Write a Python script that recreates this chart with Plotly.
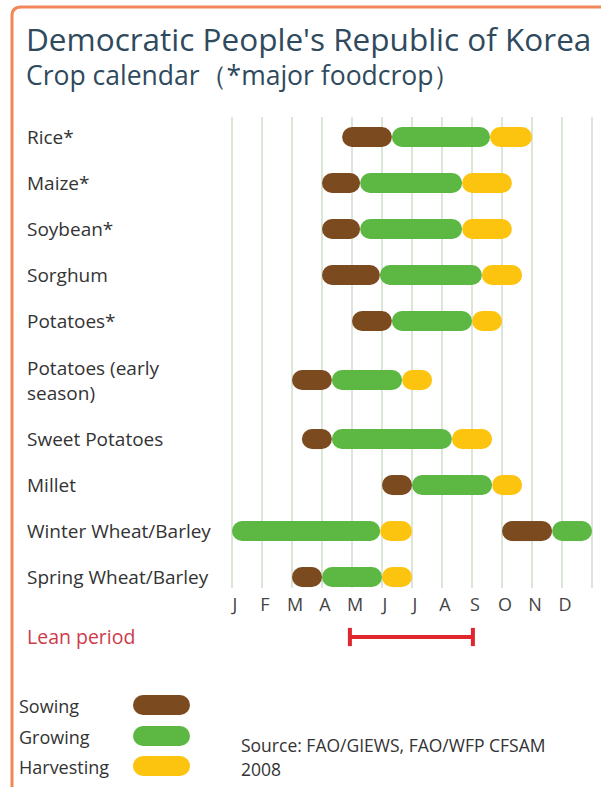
import plotly.graph_objects as go

# ---------------- data ----------------
crops = ["Rice*", "Maize*", "Soybean*", "Sorghum", "Potatoes*",
         "Potatoes (early<br>season)", "Sweet Potatoes", "Millet",
         "Winter Wheat/Barley", "Spring Wheat/Barley"]
# month scale: 0 = start of January ... 12 = end of December
sowing_start  = [3.67, 3.0, 3.0, 3.0, 4.0, 2.0, 2.33, 5.0, 9.0, 2.0]
sowing_end    = [5.33, 4.27, 4.27, 4.93, 5.33, 3.33, 3.33, 6.0, 10.67, 3.0]
growing_start = [5.33, 4.27, 4.27, 4.93, 5.33, 3.33, 3.33, 6.0, 0.0, 3.0]
growing_end   = [8.6, 7.67, 7.67, 8.33, 8.0, 5.67, 7.33, 8.67, 4.94, 5.0]
harvest_start = [8.6, 7.67, 7.67, 8.33, 8.0, 5.67, 7.33, 8.67, 4.94, 5.0]
harvest_end   = [10.0, 9.33, 9.33, 9.67, 9.0, 6.67, 8.67, 9.67, 6.0, 6.0]
# winter crop keeps growing after the autumn sowing
winter_crop = "Winter Wheat/Barley"
winter_growing_start = [10.67]
winter_growing_end = [12.0]

month_labels = ["J", "F", "M", "A", "M", "J", "J", "A", "S", "O", "N", "D"]
lean_start = [3.93]
lean_end = [8.03]

phases = ["Sowing", "Growing", "Harvesting"]
source_lines = ["Source: FAO/GIEWS, FAO/WFP CFSAM", "2008"]
title = "Democratic People's Republic of Korea"
subtitle = "Crop calendar（*major foodcrop）"

# ---------------- style / layout ----------------
W, H = 601, 787
X0_PX, PX_PER_MONTH = 232, 30
ROW_PX, FIRST_ROW_PX = 46, 137
BAR_PX = 20
GRID_TOP, GRID_BOTTOM = 117, 588
PHASE_COLORS = {"Sowing": "#7b4a1f", "Growing": "#5cb843", "Harvesting": "#fcc40f"}
TEXT = "#333333"
FONT = "Open Sans, Noto Sans, sans-serif"

r_month = (BAR_PX / 2) / PX_PER_MONTH

# row positions (in row units), two-line labels get more room
half = [0.5 + 0.283 * c.count("<br>") for c in crops]
pos = [0.0]
for i in range(1, len(crops)):
    pos.append(pos[-1] + half[i - 1] + half[i])
row_of = dict(zip(crops, pos))


def pills(starts, ends, rows):
    xs, ys = [], []
    for s, e, y in zip(starts, ends, rows):
        xs += [s + r_month, e - r_month, None]
        ys += [y, y, None]
    return xs, ys


fig = go.Figure()

segments = {
    "Sowing": (sowing_start, sowing_end, pos),
    "Growing": (growing_start + winter_growing_start,
                growing_end + winter_growing_end,
                pos + [row_of[winter_crop]] * len(winter_growing_start)),
    "Harvesting": (harvest_start, harvest_end, pos),
}
for ph in phases:
    s, e, rows = segments[ph]
    xs, ys = pills(s, e, rows)
    fig.add_trace(go.Scatter(
        x=xs, y=ys, mode="lines+markers", name=ph,
        line=dict(color=PHASE_COLORS[ph], width=BAR_PX),
        marker=dict(color=PHASE_COLORS[ph], size=BAR_PX, line=dict(width=0)),
        cliponaxis=False, showlegend=False, hoverinfo="skip",
        xaxis="x", yaxis="y"))

# lean period
fig.add_trace(go.Scatter(
    x=[lean_start[0], lean_end[0]], y=[0, 0], mode="lines+markers",
    line=dict(color="#e0262f", width=4),
    marker=dict(symbol="line-ns", size=13, line=dict(color="#e0262f", width=4)),
    cliponaxis=False, showlegend=False, hoverinfo="skip",
    xaxis="x4", yaxis="y2"))

# legend swatches (pixel overlay)
leg_y = [705, 736, 766]
for ph, yy in zip(phases, leg_y):
    fig.add_trace(go.Scatter(
        x=[133 + BAR_PX / 2, 190 - BAR_PX / 2], y=[yy, yy], mode="lines+markers",
        line=dict(color=PHASE_COLORS[ph], width=BAR_PX),
        marker=dict(color=PHASE_COLORS[ph], size=BAR_PX, line=dict(width=0)),
        cliponaxis=False, showlegend=False, hoverinfo="skip",
        xaxis="x3", yaxis="y3"))

x_dom = [214 / W, 600 / W]
x_rng = [(214 - X0_PX) / PX_PER_MONTH, (600 - X0_PX) / PX_PER_MONTH]
y_dom = [1 - GRID_BOTTOM / H, 1 - GRID_TOP / H]
y_rng = [(GRID_BOTTOM - FIRST_ROW_PX) / ROW_PX, (GRID_TOP - FIRST_ROW_PX) / ROW_PX]

ann = []
ann.append(dict(text=title, x=24, y=38, xref="x3", yref="y3", xanchor="left",
                yanchor="middle", showarrow=False,
                font=dict(size=31.5, color="#2f4a5d", family=FONT)))
ann.append(dict(text=subtitle, x=24, y=75, xref="x3", yref="y3", xanchor="left",
                yanchor="middle", showarrow=False,
                font=dict(size=26.5, color="#2f4a5d", family=FONT)))
for c, p in zip(crops, pos):
    ann.append(dict(text=c, x=25, y=p, xref="x3", yref="y", xanchor="left",
                    yanchor="middle", align="left", showarrow=False,
                    font=dict(size=19, color=TEXT, family=FONT)))
ann.append(dict(text="Lean period", x=25, y=636, xref="x3", yref="y3",
                xanchor="left", yanchor="middle", showarrow=False,
                font=dict(size=19.5, color="#cf3a4a", family=FONT)))
for ph, yy in zip(phases, leg_y):
    ann.append(dict(text=ph, x=17, y=yy + 1, xref="x3", yref="y3",
                    xanchor="left", yanchor="middle", showarrow=False,
                    font=dict(size=18, color=TEXT, family=FONT)))
for line, yy in zip(source_lines, [745, 769]):
    ann.append(dict(text=line, x=239, y=yy, xref="x3", yref="y3",
                    xanchor="left", yanchor="middle", showarrow=False,
                    font=dict(size=17.5, color=TEXT, family=FONT)))

fig.update_layout(
    width=W, height=H,
    margin=dict(l=0, r=0, t=0, b=0),
    paper_bgcolor="white", plot_bgcolor="rgba(0,0,0,0)",
    font=dict(family=FONT, color=TEXT),
    xaxis=dict(domain=x_dom, range=x_rng, anchor="y",
               tickmode="array", tickvals=list(range(13)),
               ticktext=month_labels + [""],
               showgrid=True, gridcolor="#dce6d6", gridwidth=2,
               zeroline=False, showline=False, ticks="",
               tickfont=dict(size=18, color="#444444", family=FONT),
               ticklabelstandoff=4, ticklabelshift=3, fixedrange=True),
    yaxis=dict(domain=y_dom, range=y_rng, anchor="x", showgrid=False,
               zeroline=False, showticklabels=False, ticks="", fixedrange=True),
    xaxis4=dict(domain=x_dom, range=x_rng, anchor="y2", visible=False,
                showgrid=False, zeroline=False, fixedrange=True),
    yaxis2=dict(domain=[1 - 648 / H, 1 - 626 / H], range=[-1, 1], anchor="x4",
                visible=False, showgrid=False, zeroline=False, fixedrange=True),
    xaxis3=dict(domain=[0, 1], range=[0, W], anchor="y3", visible=False,
                showgrid=False, zeroline=False, fixedrange=True),
    yaxis3=dict(domain=[0, 1], range=[H, 0], anchor="x3", visible=False,
                showgrid=False, zeroline=False, fixedrange=True),
    annotations=ann,
    shapes=[dict(type="path", xref="x3", yref="y3",
                 path="M 12,800 L 12,16 Q 12,7 21,7 L 610,7",
                 line=dict(color="#f2875a", width=3))],
)

fig.write_html("out.html", config={"displayModeBar": False},
               post_script="document.body.style.margin='0';"
                           "document.body.style.overflow='hidden';")
